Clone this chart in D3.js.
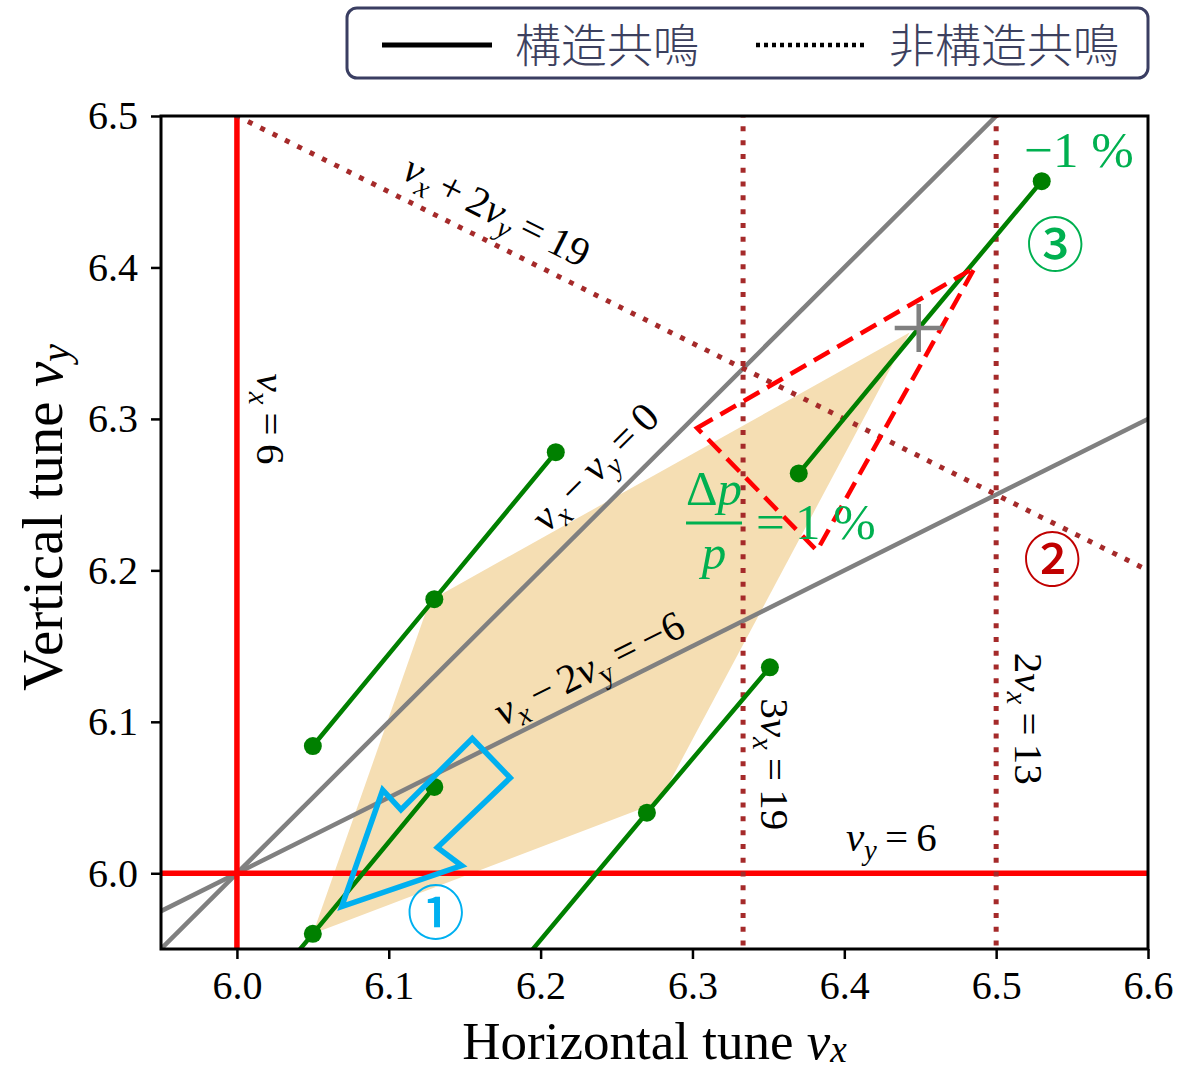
<!DOCTYPE html>
<html>
<head>
<meta charset="utf-8">
<script src="https://cdn.jsdelivr.net/npm/d3@7"></script>
<style>
body { margin: 0; background: #fff; }
text { font-family: "Liberation Serif", "Times New Roman", serif; }
</style>
</head>
<body>
<script>
const xTicks = [6.0, 6.1, 6.2, 6.3, 6.4, 6.5, 6.6]
const yTicks = [6.0, 6.1, 6.2, 6.3, 6.4, 6.5]

// resonance lines: a*nux + b*nuy = c
const structLines = [{ a: 1, b: 0, c: 6 }, { a: 0, b: 1, c: 6 }]
const couplingLines = [{ a: 1, b: -1, c: 0 }, { a: 1, b: -2, c: -6 }]
const nonStructLines = [{ a: 3, b: 0, c: 19 }, { a: 2, b: 0, c: 13 }, { a: 1, b: 2, c: 19 }]

// chromatic tune tracks, and which of their points carry a dot
const tracks = [
	{ pts: [[6.05, 6.084], [6.13, 6.181], [6.21, 6.278]], dots: [0, 1, 2] },
	{ pts: [[6.03, 5.936], [6.05, 5.960], [6.13, 6.057]], dots: [1, 2] },
	{ pts: [[6.19, 5.944], [6.27, 6.040], [6.351, 6.136]], dots: [1, 2] },
	{ pts: [[6.37, 6.264], [6.45, 6.361], [6.53, 6.457]], dots: [0, 2] }
]

const footprint = [[6.05, 5.96], [6.127, 6.18], [6.443, 6.357], [6.278, 6.047]]
const dpTriangle = [[6.303, 6.294], [6.486, 6.400], [6.382, 6.213]]
const workPoint = [6.449, 6.36]
const arrow1 = [[6.069, 5.978], [6.096, 6.055], [6.108, 6.042], [6.155, 6.089],
	[6.180, 6.063], [6.132, 6.017], [6.148, 6.005]]

const margin = { top: 116, right: 31, bottom: 122, left: 161 }
const width = 1179 - margin.left - margin.right
const height = 1071 - margin.top - margin.bottom

const x = d3.scaleLinear().domain([5.95, 6.6]).range([0, width])
const y = d3.scaleLinear().domain([5.95, 6.5]).range([height, 0])

const svg = d3.select('body').append('svg')
		.attr('width', 1179)
		.attr('height', 1071)

const g = svg.append('g')
		.attr('transform', `translate(${margin.left}, ${margin.top})`)

g.append('clipPath').attr('id', 'plot-clip')
	.append('rect').attr('width', width).attr('height', height)

const plot = g.append('g').attr('clip-path', 'url(#plot-clip)')

// endpoints of a*nx + b*ny = c over the domain
function ends(l) {
	const [x0, x1] = x.domain(), [y0, y1] = y.domain()
	if (l.b === 0) return [[l.c / l.a, y0 - 1], [l.c / l.a, y1 + 1]]
	return [[x0 - 1, (l.c - l.a * (x0 - 1)) / l.b], [x1 + 1, (l.c - l.a * (x1 + 1)) / l.b]]
}
const line = d3.line().x(d => x(d[0])).y(d => y(d[1]))

plot.append('path')
		.attr('d', line(footprint) + 'Z')
		.attr('fill', '#f5deb3')

plot.selectAll('.coupling')
		.data(couplingLines)
	.enter().append('path')
		.attr('d', d => line(ends(d)))
		.attr('stroke', '#808080').attr('stroke-width', 4.5).attr('fill', 'none')

plot.selectAll('.struct')
		.data(structLines)
	.enter().append('path')
		.attr('d', d => line(ends(d)))
		.attr('stroke', '#ff0000').attr('stroke-width', 5.5).attr('fill', 'none')

plot.selectAll('.nonstruct')
		.data(nonStructLines)
	.enter().append('path')
		.attr('d', d => line(ends(d)))
		.attr('stroke', '#a52a2a').attr('stroke-width', 5)
		.attr('stroke-dasharray', '5,8.8').attr('fill', 'none')

const track = plot.selectAll('.track')
		.data(tracks)
	.enter().append('g')

track.append('path')
		.attr('d', d => line(d.pts))
		.attr('stroke', '#008000').attr('stroke-width', 4.5).attr('fill', 'none')

track.selectAll('circle')
		.data(d => d.dots.map(i => d.pts[i]))
	.enter().append('circle')
		.attr('cx', d => x(d[0])).attr('cy', d => y(d[1])).attr('r', 9)
		.attr('fill', '#008000')

plot.append('path')
		.attr('d', line(dpTriangle) + 'Z')
		.attr('stroke', '#ff0000').attr('stroke-width', 4.5)
		.attr('stroke-dasharray', '18,9').attr('fill', 'none')

plot.append('path')
		.attr('transform', `translate(${x(workPoint[0])}, ${y(workPoint[1])})`)
		.attr('d', 'M-24,0H24M0,-24V24')
		.attr('stroke', '#808080').attr('stroke-width', 4.5)

plot.append('path')
		.attr('d', line(arrow1) + 'Z')
		.attr('stroke', '#00b0f0').attr('stroke-width', 5.5).attr('fill', 'none')

// text with italic nu and subscripts ('sub' italic, 'subr' upright)
function mathText(sel, parts, size, drop = 0.2) {
	const t = sel.append('text').attr('font-size', size)
	let shift = 0
	parts.forEach(([str, kind]) => {
		const ts = t.append('tspan').text(str)
		if (kind === 'i' || kind === 'sub') ts.attr('font-style', 'italic')
		const isSub = kind === 'sub' || kind === 'subr'
		const target = isSub ? size * drop : 0
		ts.attr('dy', target - shift)
		shift = target
		if (isSub) ts.attr('font-size', size * 0.7)
	})
	return t
}

function angleOf(l) {
	const [p, q] = ends(l)
	return Math.atan2(y(q[1]) - y(p[1]), x(q[0]) - x(p[0])) * 180 / Math.PI
}

const labels = [
	{ at: [6.022, 6.300], rot: 90, parts: [['ν', 'i'], ['x', 'sub'], ['\u2009=\u20096']] },
	{ at: [6.354, 6.072], rot: 90, parts: [['3'], ['ν', 'i'], ['x', 'sub'], ['\u2009=\u200919']] },
	{ at: [6.521, 6.102], rot: 90, parts: [['2'], ['ν', 'i'], ['x', 'sub'], ['\u2009=\u200913']] },
	{ at: [6.431, 6.023], rot: 0, parts: [['ν', 'i'], ['y', 'sub'], ['\u2009=\u20096']] },
	{ at: [6.171, 6.437], rot: angleOf(nonStructLines[2]), parts: [['ν', 'i'], ['x', 'sub'], ['\u2009+\u20092'], ['ν', 'i'], ['y', 'sub'], ['\u2009=\u200919']] },
	{ at: [6.236, 6.268], rot: angleOf(couplingLines[0]), parts: [['ν', 'i'], ['x', 'sub'], ['\u2009−\u2009'], ['ν', 'i'], ['y', 'sub'], ['\u2009=\u20090']] },
	{ at: [6.232, 6.135], rot: angleOf(couplingLines[1]), parts: [['ν', 'i'], ['x', 'sub'], ['\u2009−\u20092'], ['ν', 'i'], ['y', 'subr'], ['\u2009=\u2009−6']] }
]

labels.forEach(d => {
	const lg = g.append('g')
		.attr('transform', `translate(${x(d.at[0])}, ${y(d.at[1])}) rotate(${d.rot})`)
	mathText(lg, d.parts, 41)
		.attr('text-anchor', 'middle')
		.attr('y', 13)
})

// momentum labels
const green = '#00b050'
g.append('text')
		.attr('x', x(6.5546)).attr('y', y(6.4775) + 17)
		.attr('text-anchor', 'middle').attr('font-size', 51).attr('fill', green)
		.text('−1 %')

const frac = g.append('g')
		.attr('transform', `translate(${x(6.3142)}, ${y(6.2312)})`)
		.attr('fill', green).attr('font-size', 49)
frac.append('text').attr('text-anchor', 'middle').attr('y', -18)
	.call(t => { t.append('tspan').text('Δ'); t.append('tspan').attr('font-style', 'italic').text('p') })
frac.append('line').attr('x1', -28).attr('x2', 28)
		.attr('stroke', green).attr('stroke-width', 3)
frac.append('text').attr('text-anchor', 'middle').attr('y', 46).attr('font-style', 'italic').text('p')
frac.append('text').attr('x', 42).attr('y', 16).attr('font-size', 51).text('=\u20091 %')

// circled numbers
const marks = [
	{ at: [6.131, 5.974], txt: '①', color: '#00b0f0' },
	{ at: [6.537, 6.207], txt: '②', color: '#c00000' },
	{ at: [6.539, 6.415], txt: '③', color: '#00b050' }
]
g.selectAll('.mark')
		.data(marks)
	.enter().append('text')
		.attr('x', d => x(d.at[0])).attr('y', d => y(d.at[1]))
		.attr('dy', '0.36em')
		.attr('text-anchor', 'middle')
		.style('font-family', '"Noto Sans CJK JP", sans-serif')
		.attr('font-size', 58)
		.attr('font-weight', 500)
		.attr('fill', d => d.color)
		.text(d => d.txt)

// axes
const xAxis = g.append('g')
		.attr('transform', `translate(0, ${height})`)
		.call(d3.axisBottom(x).tickValues(xTicks).tickFormat(d3.format('.1f')).tickSize(10).tickPadding(12))
const yAxis = g.append('g')
		.call(d3.axisLeft(y).tickValues(yTicks).tickFormat(d3.format('.1f')).tickSize(10).tickPadding(13))

;[xAxis, yAxis].forEach(a => {
	a.select('.domain').remove()
	a.selectAll('line').attr('stroke-width', 2.5)
	a.selectAll('text').attr('font-size', 40).style('font-family', '"Liberation Serif", serif')
})

g.append('rect')
		.attr('width', width).attr('height', height)
		.attr('fill', 'none').attr('stroke', '#000').attr('stroke-width', 3)

mathText(g, [['Horizontal tune '], ['ν', 'i'], ['x', 'sub']], 53, 0.05)
		.attr('text-anchor', 'middle').attr('x', width / 2).attr('y', height + 110)
const ytg = g.append('g').attr('transform', `translate(-99, ${height / 2 - 15}) rotate(-90)`)
mathText(ytg, [['Vertical tune '], ['ν', 'i'], ['y', 'sub']], 57, 0.12)
		.attr('text-anchor', 'middle')

// legend
const legend = svg.append('g')
legend.append('rect')
		.attr('x', 347).attr('y', 8).attr('width', 801).attr('height', 70).attr('rx', 10)
		.attr('fill', '#fff').attr('stroke', '#3a3e62').attr('stroke-width', 3)
const legendItems = [
	{ label: '構造共鳴', dash: null, x: 382 },
	{ label: '非構造共鳴', dash: '4,4', x: 756 }
]
legendItems.forEach(d => {
	legend.append('line')
		.attr('x1', d.x).attr('x2', d.x + 110).attr('y1', 45).attr('y2', 45)
		.attr('stroke', '#000').attr('stroke-width', d.dash ? 4.5 : 5)
		.attr('stroke-dasharray', d.dash)
	legend.append('text')
		.attr('x', d.x + 133).attr('y', 45).attr('dy', '0.36em')
		.style('font-family', '"Noto Sans CJK JP", sans-serif')
		.attr('font-size', 46).attr('font-weight', 300).attr('fill', '#3c405e')
		.text(d.label)
})
</script>
</body>
</html>
